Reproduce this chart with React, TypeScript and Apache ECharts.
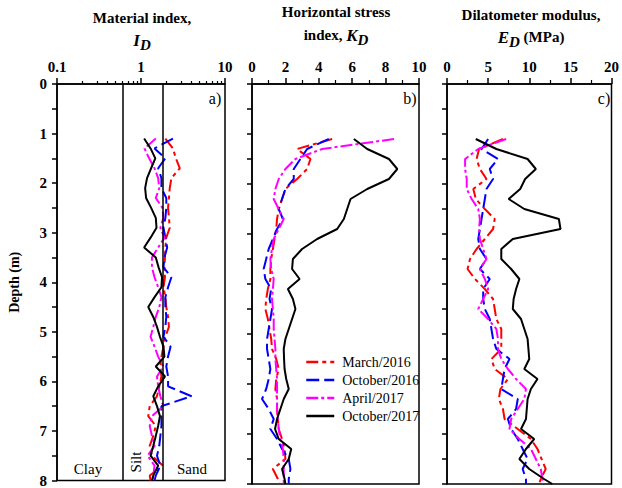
import React, { useEffect, useRef } from "react";
import * as echarts from "echarts";

const FONT = '"Liberation Serif", "Times New Roman", serif';

const depths = [1.1, 1.3, 1.5, 1.7, 1.9, 2.1, 2.3, 2.5, 2.7, 2.9, 3.1, 3.3, 3.5, 3.7, 3.9, 4.1, 4.3, 4.5, 4.7, 4.9, 5.1, 5.3, 5.5, 5.7, 5.9, 6.1, 6.3, 6.5, 6.7, 6.9, 7.1, 7.3, 7.5, 7.7, 7.9, 8.0];

const seriesNames = ["March/2016", "October/2016", "April/2017", "October/2017"];

// Material index I_D
const idMar16 = [1.95, 2.4, 2.6, 2.9, 2.3, 2.2, 2.15, 2.1, 2.15, 2.2, 2.0, 1.95, 1.93, 1.9, 1.93, 1.85, 1.95, 2.0, 2.1, 2.15, 1.95, 1.85, 1.75, 1.7, 1.75, 1.65, 1.55, 1.27, 1.22, 1.5, 1.4, 1.27, 1.35, 1.82, 1.27, 1.3];
const idOct16 = [2.4, 1.45, 1.95, 1.6, 1.75, 1.75, 2.0, 2.0, 1.95, 1.85, 1.95, 2.05, 1.9, 1.85, 2.3, 2.1, 1.95, 1.95, 2.0, 1.95, 1.85, 2.25, 2.1, 2.0, 2.1, 2.1, 4.0, 1.75, 1.75, 1.75, 1.7, 1.65, 1.55, 1.7, 1.5, 1.45];
const idApr17 = [1.5, 1.1, 1.25, 1.45, 1.6, 1.65, 1.5, 1.8, 1.85, 1.7, 1.9, 1.6, 1.35, 1.35, 1.45, 1.6, 1.75, 1.65, 1.5, 1.4, 1.3, 1.45, 1.6, 1.84, 1.55, 1.6, 1.7, 1.84, 1.35, 1.27, 1.35, 1.45, 1.2, 1.45, 1.4, 1.4];
const idOct17 = [1.09, 1.3, 1.48, 1.32, 1.18, 1.12, 1.15, 1.32, 1.5, 1.53, 1.3, 1.09, 1.5, 1.62, 1.78, 1.75, 1.45, 1.22, 1.4, 1.55, 1.68, 1.85, 1.9, 1.5, 1.93, 1.6, 1.4, 1.55, 1.68, 1.6, 1.5, 1.4, 1.3, 1.6, 1.4, 1.35];

// Horizontal stress index K_D
const kdMar16 = [4.8, 2.7, 3.5, 3.3, 2.7, 2.0, 1.8, 1.6, 1.5, 1.45, 1.35, 1.25, 1.15, 1.1, 1.1, 0.95, 0.85, 0.8, 0.95, 1.05, 1.15, 1.2, 1.45, 1.6, 1.45, 1.4, 1.5, 1.5, 1.55, 1.6, 1.8, 1.95, 2.0, 1.25, 1.55, 1.65];
const kdOct16 = [4.6, 3.3, 2.9, 2.5, 2.5, 2.0, 1.8, 1.6, 1.85, 1.5, 1.25, 1.0, 0.85, 0.7, 0.8, 1.15, 1.05, 1.2, 1.1, 1.0, 0.9, 0.9, 1.0, 1.1, 1.0, 0.85, 0.6, 1.0, 1.3, 1.1, 1.5, 1.8, 2.2, 2.3, 2.2, 2.2];
const kdApr17 = [8.5, 4.2, 2.6, 2.0, 1.6, 1.4, 1.3, 1.6, 1.9, 1.6, 1.3, 1.2, 1.1, 1.15, 1.3, 1.25, 1.2, 1.25, 1.3, 1.3, 1.35, 1.4, 1.4, 1.45, 1.5, 1.5, 1.5, 1.5, 1.55, 1.6, 1.7, 1.85, 1.9, 1.9, 1.9, 1.9];
const kdOct17 = [6.1, 6.9, 8.2, 8.7, 8.2, 6.9, 5.9, 5.7, 5.5, 5.1, 3.9, 3.0, 2.45, 2.4, 2.85, 2.15, 2.45, 2.6, 2.4, 2.2, 2.0, 1.9, 1.92, 1.95, 2.05, 2.2, 1.9, 1.7, 1.5, 1.38, 1.6, 2.35, 2.2, 1.8, 1.95, 2.0];

// Dilatometer modulus E_D (MPa)
const edMar16 = [6.8, 3.9, 3.6, 4.0, 4.8, 3.2, 3.5, 4.6, 5.8, 5.6, 4.6, 3.6, 2.8, 2.5, 3.4, 4.6, 5.6, 5.8, 6.0, 6.6, 6.6, 6.6, 5.4, 5.8, 7.4, 6.5, 6.3, 6.8, 7.0, 8.6, 10.2, 11.0, 11.5, 12.0, 11.4, 11.2];
const edOct16 = [5.0, 4.2, 6.2, 5.2, 5.6, 4.8, 4.6, 4.4, 4.2, 4.0, 3.8, 4.0, 4.8, 4.0, 5.2, 4.4, 4.4, 4.6, 5.2, 5.4, 5.6, 6.0, 7.6, 7.0, 6.8, 6.6, 8.6, 8.4, 7.4, 7.8, 8.6, 9.2, 9.8, 9.2, 9.6, 9.6];
const edApr17 = [7.2, 3.8, 2.2, 2.2, 2.4, 2.4, 3.0, 3.8, 4.0, 3.9, 4.0, 4.4, 4.8, 4.0, 4.6, 5.0, 4.4, 3.8, 5.0, 6.0, 6.2, 6.2, 6.6, 7.4, 8.4, 9.6, 9.4, 8.6, 7.8, 7.6, 8.8, 10.2, 10.8, 11.4, 11.6, 11.6];
const edOct17 = [3.5, 6.0, 9.8, 10.8, 9.5, 8.9, 7.5, 9.4, 13.6, 13.8, 8.0, 6.6, 6.6, 7.8, 8.8, 8.4, 8.1, 8.0, 9.0, 9.4, 9.8, 9.9, 10.0, 9.4, 11.0, 10.2, 9.8, 9.7, 9.6, 9.0, 10.6, 9.6, 8.8, 10.0, 11.8, 12.8];

const idMajorTicks = [0.1, 1, 10];
const idMinorTicks = [0.2, 0.3, 0.4, 0.5, 0.6, 0.7, 0.8, 0.9, 2, 3, 4, 5, 6, 7, 8, 9];
const soilBoundaries = [0.6, 1.8];

const colors = ["#ff0000", "#0000ff", "#ff00ff", "#000000"];
const dashes: any[] = [[12, 4, 4, 4], [13, 5], [12, 3, 3, 3], "solid"];

function buildSeries(values: number[][], xAxisIndex: number, yAxisIndex: number) {
  return values.map((vals, k) => ({
    type: "line",
    name: seriesNames[k],
    xAxisIndex,
    yAxisIndex,
    symbol: "none",
    showSymbol: false,
    smooth: false,
    z: 3 + (k === 3 ? 1 : 0),
    lineStyle: { color: colors[k], width: 2, type: dashes[k] },
    itemStyle: { color: colors[k] },
    data: depths.map((d, i) => [vals[i], d]),
  }));
}

export default function App() {
  const ref = useRef<HTMLDivElement>(null);
  useEffect(() => {
    if (!ref.current) return;
    const chart = echarts.init(ref.current, null, { renderer: "svg" });
    const axisLine = { show: true, lineStyle: { color: "#000", width: 1.5 } };
    const labelStyle = { fontFamily: FONT, fontWeight: "bold", fontSize: 15, color: "#000" };
    const grids = [
      { left: 57, top: 84, width: 168, height: 400 },
      { left: 252, top: 84, width: 167, height: 400 },
      { left: 447, top: 84, width: 167, height: 400 },
    ].map((g) => ({ ...g, show: true, borderColor: "#000", borderWidth: 1.5, backgroundColor: "transparent" }));

    const yAxes = [0, 1, 2].map((gi) => ({
      type: "value",
      gridIndex: gi,
      inverse: true,
      min: 0,
      max: 8,
      interval: 1,
      axisLine,
      axisTick: { show: true, length: 5, lineStyle: { color: "#000", width: 1.5 } },
      minorTick: { show: true, splitNumber: 2, length: 5, lineStyle: { color: "#000", width: 1.5 } },
      splitLine: { show: false },
      axisLabel: { show: gi === 0, margin: 10, ...labelStyle },
      name: gi === 0 ? "Depth (m)" : "",
      nameLocation: "middle",
      nameRotate: 90,
      nameGap: 36,
      nameTextStyle: { ...labelStyle, fontSize: 14 },
    }));

    const xAxes = [
      {
        type: "log",
        logBase: 10,
        gridIndex: 0,
        position: "top",
        min: 0.1,
        max: 10,
        axisLine,
        axisTick: { show: true, length: 6, customValues: idMajorTicks, lineStyle: { color: "#000", width: 1.5 } },
        axisLabel: { show: true, margin: 10, customValues: idMajorTicks, formatter: (v: number) => String(v), ...labelStyle },
        splitLine: { show: false },
      },
      {
        type: "log",
        logBase: 10,
        gridIndex: 0,
        position: "top",
        min: 0.1,
        max: 10,
        axisLine: { show: false },
        axisTick: { show: true, length: 3, customValues: idMinorTicks, lineStyle: { color: "#000", width: 1.2 } },
        axisLabel: { show: false },
        splitLine: { show: false },
      },
      {
        type: "value",
        gridIndex: 1,
        position: "top",
        min: 0,
        max: 10,
        interval: 2,
        axisLine,
        axisTick: { show: true, length: 6, lineStyle: { color: "#000", width: 1.5 } },
        minorTick: { show: true, splitNumber: 2, length: 4, lineStyle: { color: "#000", width: 1.2 } },
        axisLabel: { margin: 10, ...labelStyle },
        splitLine: { show: false },
      },
      {
        type: "value",
        gridIndex: 2,
        position: "top",
        min: 0,
        max: 20,
        interval: 5,
        axisLine,
        axisTick: { show: true, length: 6, lineStyle: { color: "#000", width: 1.5 } },
        minorTick: { show: true, splitNumber: 2, length: 4, lineStyle: { color: "#000", width: 1.2 } },
        axisLabel: { margin: 10, ...labelStyle },
        splitLine: { show: false },
      },
    ];

    const idSeries: any[] = buildSeries([idMar16, idOct16, idApr17, idOct17], 0, 0);
    idSeries[0].markLine = {
      silent: true,
      symbol: "none",
      label: { show: false },
      lineStyle: { color: "#000", width: 1.5, type: "solid" },
      data: soilBoundaries.map((v) => ({ xAxis: v })),
    };
    const series = [
      ...idSeries,
      ...buildSeries([kdMar16, kdOct16, kdApr17, kdOct17], 2, 1),
      ...buildSeries([edMar16, edOct16, edApr17, edOct17], 3, 2),
    ];

    const titleFont = `bold 15px ${FONT}`;
    const txt = (text: string, x: number, y: number, font: string, extra: any = {}) => ({
      type: "text",
      x,
      y,
      ...extra,
      style: { text, font, fill: "#000", textAlign: "center", textVerticalAlign: "middle", align: "center", verticalAlign: "middle" },
    });
    const richTxt = (text: string, x: number, y: number) => ({
      type: "text",
      x,
      y,
      style: {
        text,
        fill: "#000",
        textAlign: "center",
        textVerticalAlign: "middle",
        align: "center",
        verticalAlign: "middle",
        font: titleFont,
        rich: {
          n: { font: titleFont, lineHeight: 24, fill: "#000" },
          i: { font: `italic bold 17px ${FONT}`, lineHeight: 24, fill: "#000" },
          s: { font: `italic bold 15px ${FONT}`, lineHeight: 14, verticalAlign: "bottom", fill: "#000" },
        },
      },
    });

    const graphic = [
      txt("Material index,", 142, 18, titleFont),
      richTxt("{i|I}{s|D}", 142, 40),
      txt("Horizontal stress", 336, 12, titleFont),
      richTxt("{n|index, }{i|K}{s|D}", 336, 35),
      txt("Dilatometer modulus,", 531, 15, titleFont),
      richTxt("{i|E}{s|D}{n| (MPa)}", 531, 37),
      txt("a)", 215, 98, `16px ${FONT}`),
      txt("b)", 410, 98, `16px ${FONT}`),
      txt("c)", 604, 98, `16px ${FONT}`),
      txt("Clay", 88, 469, `15px ${FONT}`),
      txt("Silt", 136, 462, `15px ${FONT}`, { rotation: Math.PI / 2 }),
      txt("Sand", 192, 469, `15px ${FONT}`),
    ];

    chart.setOption({
      animation: false,
      backgroundColor: "#fff",
      grid: grids,
      xAxis: xAxes,
      yAxis: yAxes,
      legend: {
        data: seriesNames,
        orient: "vertical",
        left: 300,
        top: 350,
        itemWidth: 28,
        itemHeight: 14,
        itemGap: 4,
        itemStyle: { opacity: 0, borderWidth: 0 },
        lineStyle: { width: 2.5 },
        textStyle: { fontFamily: FONT, fontSize: 14, color: "#000", padding: [0, 0, 0, 3] },
        inactiveColor: "#ccc",
      },
      graphic,
      series,
    });
    return () => chart.dispose();
  }, []);
  return <div ref={ref} style={{ position: "absolute", left: 0, top: 0, width: 622, height: 488 }} />;
}
